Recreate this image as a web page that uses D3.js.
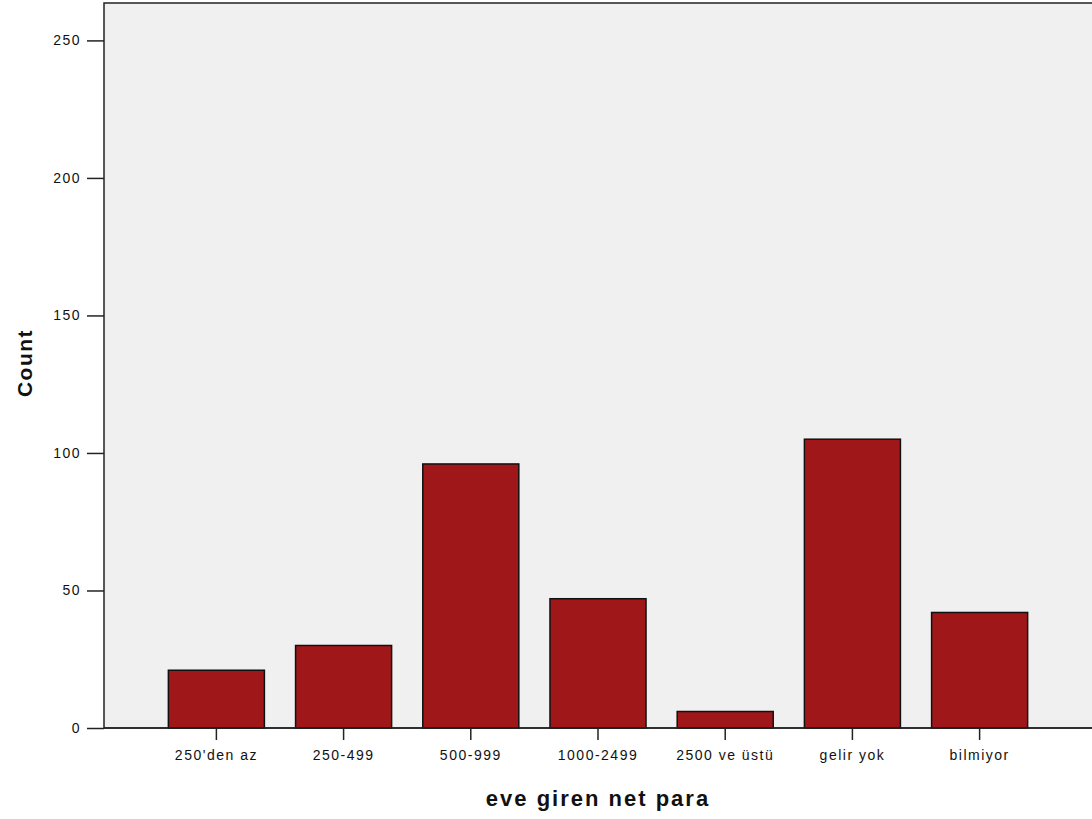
<!DOCTYPE html>
<html lang="en">
<head>
  <meta charset="UTF-8">
  <title>eve giren net para</title>
</head>
<body>
<style>
  * {
    padding: 0;
    margin: 0;
  }

  body {
    background: #fff;
  }

  #app {
    width: 1092px;
    height: 819px;
    overflow: hidden;
  }
</style>

<div id="app"></div>

<script src="https://cdn.jsdelivr.net/npm/d3@7/dist/d3.min.js"></script>
<script>
  var categories = ["250'den az", "250-499", "500-999", "1000-2499", "2500 ve üstü", "gelir yok", "bilmiyor"];
  var counts = [21, 30, 96, 47, 6, 105, 42];
  var yTicks = [0, 50, 100, 150, 200, 250];

  function drawBars() {
    var left = 104, right = 1092, top = 3, bottom = 728;

    var svg = d3.select('#app').append('svg')
      .attr('width', 1092).attr('height', 819)
      .style('font-family', 'Arial, "Liberation Sans", sans-serif');

    var x = d3.scaleBand().domain(categories).range([left, right])
      .paddingInner(0.245).paddingOuter(0.506);
    var y = d3.scaleLinear().domain([0, 263.6]).range([bottom, top]);

    // plot background
    svg.append('rect')
      .attr('x', left).attr('y', top)
      .attr('width', right - left + 2).attr('height', bottom - top)
      .attr('fill', '#f0f0f0')
      .attr('stroke', '#222').attr('stroke-width', 1.5);

    // bars
    svg.append('g').selectAll('rect')
      .data(counts)
      .join('rect')
      .attr('x', (d, i) => x(categories[i]))
      .attr('y', d => y(d))
      .attr('width', x.bandwidth())
      .attr('height', d => y(0) - y(d))
      .attr('fill', '#a0171a')
      .attr('stroke', '#111').attr('stroke-width', 1.5);

    // y axis
    var yAxis = svg.append('g')
      .attr('transform', 'translate(' + left + ',0)')
      .call(d3.axisLeft(y).tickValues(yTicks).tickSize(17).tickPadding(6).tickSizeOuter(0));
    yAxis.select('.domain').remove();
    yAxis.selectAll('.tick line').attr('stroke', '#222').attr('stroke-width', 1.5);
    yAxis.selectAll('.tick text').attr('font-size', 14).attr('letter-spacing', 1.5).attr('fill', '#111');

    // x axis
    var xAxis = svg.append('g')
      .attr('transform', 'translate(0,' + bottom + ')')
      .call(d3.axisBottom(x).tickSize(12).tickPadding(10).tickSizeOuter(0));
    xAxis.select('.domain').remove();
    xAxis.selectAll('.tick line').attr('stroke', '#222').attr('stroke-width', 1.5);
    xAxis.selectAll('.tick text').attr('font-size', 14).attr('letter-spacing', 1.5).attr('fill', '#111');

    // axis line at the bottom of the plot
    svg.append('line')
      .attr('x1', left).attr('x2', right + 2)
      .attr('y1', bottom).attr('y2', bottom)
      .attr('stroke', '#222').attr('stroke-width', 1.5);

    // titles
    svg.append('text')
      .attr('x', (left + right) / 2).attr('y', 806)
      .attr('text-anchor', 'middle')
      .attr('font-size', 22).attr('font-weight', 'bold').attr('letter-spacing', 2).attr('fill', '#111')
      .text('eve giren net para');

    svg.append('text')
      .attr('transform', 'translate(32,363) rotate(-90)')
      .attr('text-anchor', 'middle')
      .attr('font-size', 21).attr('font-weight', 'bold').attr('letter-spacing', 1.5).attr('fill', '#111')
      .text('Count');
  }

  drawBars()
</script>

</body>
</html>
